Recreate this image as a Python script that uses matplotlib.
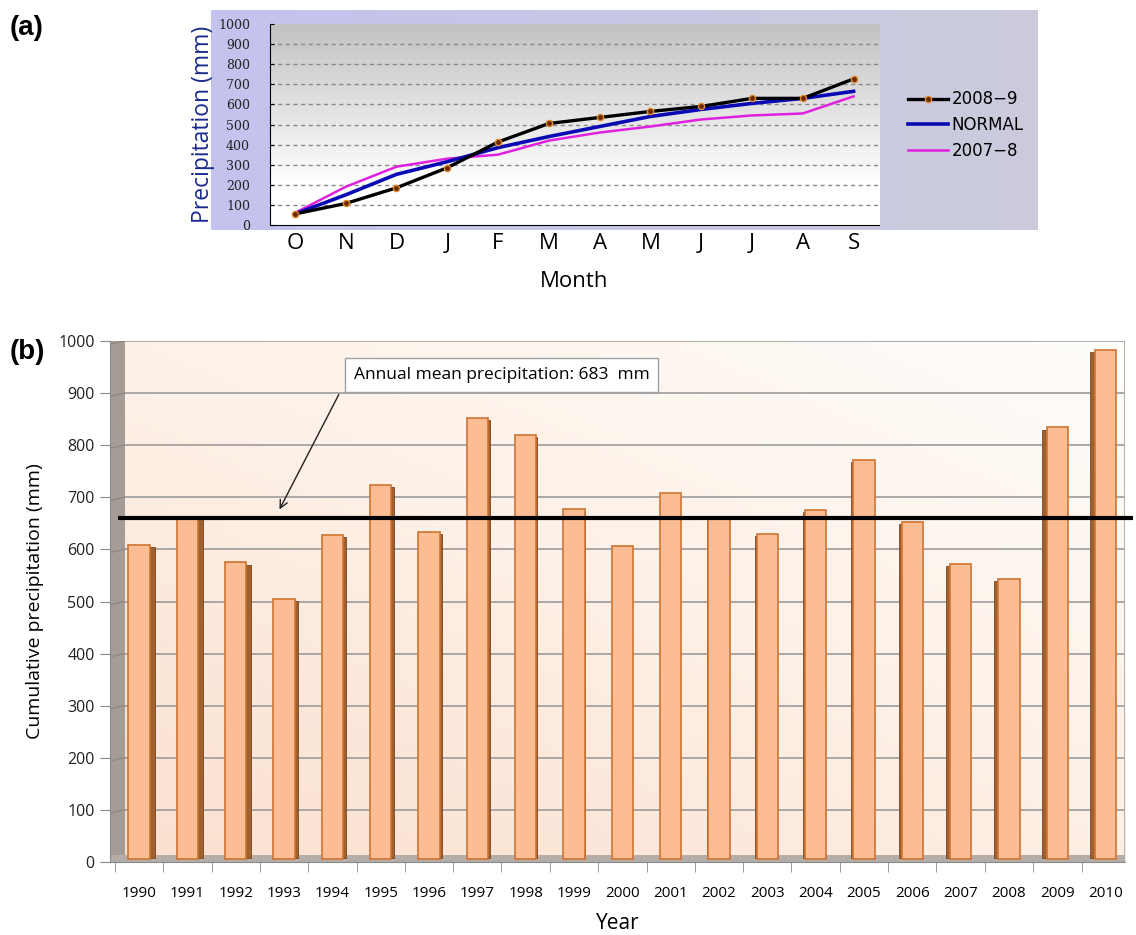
import numpy as np
import matplotlib
matplotlib.use("Agg")
import matplotlib.pyplot as plt
from matplotlib.patches import Rectangle
from matplotlib.colors import LinearSegmentedColormap

# ---------------- data ----------------
months = ["O", "N", "D", "J", "F", "M", "A", "M", "J", "J", "A", "S"]
p2008_9 = [55, 107, 185, 285, 413, 505, 535, 565, 590, 630, 630, 727]
normal = [55, 150, 252, 315, 385, 440, 490, 540, 575, 605, 630, 665]
p2007_8 = [60, 190, 290, 330, 350, 420, 460, 490, 525, 545, 555, 640]

years = [str(y) for y in range(1990, 2011)]
annual = [609, 662, 575, 505, 628, 724, 634, 852, 820, 677,
          607, 709, 659, 629, 676, 771, 652, 572, 543, 834, 983]
mean_line = 661
mean_label = "Annual mean precipitation: 683  mm"

W, H = 1136, 935
fig = plt.figure(figsize=(W / 100, H / 100), dpi=100)
fig.patch.set_facecolor("white")

def fx(px):
    return px / W

def fy(py):
    return 1 - py / H

# ---------------- panel (a) ----------------
# lavender chart area (as a background axes)
axbg = fig.add_axes([fx(211), fy(230), fx(1038) - fx(211), fy(10) - fy(230)])
axbg.set_zorder(0)
bgx = np.linspace(0, 1, 256).reshape(1, -1)
cm_bg = LinearSegmentedColormap.from_list("lav", ["#c3c3ef", "#c8c8e6", "#cbcbdc"])
axbg.imshow(bgx, aspect="auto", cmap=cm_bg, extent=(0, 1, 0, 1))
axbg.set_axis_off()

axa = fig.add_axes([fx(269.5), fy(225), fx(879) - fx(269.5), fy(24) - fy(225)])
axa.set_zorder(2)
axa.set_facecolor("none")
grad = np.linspace(0, 1, 256).reshape(-1, 1)
cm_a = LinearSegmentedColormap.from_list("g", [(0, "#ffffff"), (0.2, "#ffffff"), (1, "#c2c2c2")])
axa.imshow(grad, aspect="auto", cmap=cm_a, origin="lower",
           extent=(-0.5, 11.5, 0, 1000), zorder=0)
x = np.arange(len(months))
for v in range(100, 1000, 100):
    axa.axhline(v, color="#8a8a8a", lw=1.0, ls=(0, (3, 2.5)), zorder=1)
axa.plot(x, p2007_8, color="#e020e0", lw=1.8, zorder=3, label="2007\u22128")
axa.plot(x, normal, color="#0a0ab4", lw=2.6, zorder=4, label="NORMAL")
axa.plot(x, p2008_9, color="black", lw=2.4, zorder=5, marker="o", ms=4.5,
         mfc="#6a2a00", mec="#e08a30", mew=1.0, label="2008\u22129")
axa.set_xlim(-0.5, 11.5)
axa.set_ylim(0, 1000)
axa.set_yticks(range(0, 1001, 100))
axa.set_yticklabels([str(v) for v in range(0, 1001, 100)], fontsize=9,
                    family="DejaVu Serif", color="#222222")
axa.set_xticks(x)
axa.set_xticklabels(months, fontsize=16, family="Open Sans")
axa.tick_params(axis="x", length=0, pad=6)
axa.tick_params(axis="y", length=3, direction="in", pad=14)
for s in ["top", "right"]:
    axa.spines[s].set_visible(False)
axa.spines["left"].set_color("black")
axa.spines["bottom"].set_color("black")
axa.set_xlabel("Month", fontsize=16, family="Open Sans", labelpad=12)
axa.set_ylabel("Precipitation (mm)", fontsize=16.5, family="Open Sans",
               color="#1c2a8c", labelpad=2)
h, l = axa.get_legend_handles_labels()
leg = fig.legend(h[::-1], l[::-1], loc="center left", bbox_to_anchor=(fx(893), fy(125)),
                 frameon=False, handlelength=2.4, labelspacing=0.45,
                 handletextpad=0.2, prop={"family": "DejaVu Sans", "size": 12})
leg.set_zorder(5)
fig.text(fx(10), fy(28), "(a)", fontsize=20, fontweight="bold",
         family="Liberation Sans", va="center", ha="left")

# ---------------- panel (b) ----------------
axb = fig.add_axes([fx(110), fy(862), fx(1125) - fx(110), fy(341) - fy(862)])
axb.set_facecolor("none")
xb = np.arange(len(years))
xl = (-0.6, 20.4)
# background gradient
gx = np.linspace(0, 1, 200)
gy = np.linspace(0, 1, 200)
GX, GY = np.meshgrid(gx, gy)
G = np.clip(0.55 * GY + 0.45 * GX, 0, 1)
cm_b = LinearSegmentedColormap.from_list("p", ["#fbe0cf", "#fdf0e6", "#fffdfa"])
axb.imshow(G, aspect="auto", cmap=cm_b, origin="lower",
           extent=(xl[0] + 0.3, xl[1], 0, 1000), zorder=0)
# left wall and floor
axb.add_patch(Rectangle((xl[0], 0), 0.3, 1000, facecolor="#a59c95", edgecolor="none", zorder=1))
axb.add_patch(Rectangle((xl[0], 0), xl[1] - xl[0], 14, facecolor="#b5aea8", edgecolor="none", zorder=1))
for v in range(100, 1001, 100):
    axb.plot([xl[0] + 0.3, xl[1]], [v, v], color="#9c9c9c", lw=1.2, zorder=1)
    axb.plot([xl[0], xl[0] + 0.3], [v - 6, v], color="#8f8a86", lw=1.0, zorder=1)
axb.plot([xl[1], xl[1]], [0, 1000], color="#a8a8a8", lw=1.2, zorder=1)

bw = 0.44
for i, v in enumerate(annual):
    off = (10 - i) / 10 * 0.11
    if off >= 0:
        sx = xb[i] + bw / 2
    else:
        sx = xb[i] - bw / 2 + off
    if abs(off) > 0.005:
        axb.add_patch(Rectangle((sx, 8), abs(off), v - 12, facecolor="#a0612f",
                                edgecolor="#7a4520", lw=0.6, zorder=2))
    axb.add_patch(Rectangle((xb[i] - bw / 2, 6), bw, v - 6, facecolor="#fcbd94",
                            edgecolor="#cf7431", lw=1.2, zorder=3))

axb.plot([xl[0] + 0.17, xl[1] + 0.17], [mean_line, mean_line], color="black",
         lw=3, zorder=5, clip_on=False, solid_capstyle="butt")
axb.annotate("", xy=(2.88, 672), xytext=(4.16, 902),
             arrowprops=dict(arrowstyle="->", color="#222222", lw=1.0,
                             mutation_scale=14), zorder=6)
axb.text(7.5, 935, mean_label, ha="center", va="center", fontsize=12.5,
         family="Open Sans", zorder=7,
         bbox=dict(boxstyle="square,pad=0.5", facecolor="white",
                   edgecolor="#a0a0a0", lw=1.0))

axb.set_xlim(*xl)
axb.set_ylim(0, 1000)
axb.set_yticks(range(0, 1001, 100))
axb.set_yticklabels([str(v) for v in range(0, 1001, 100)], fontsize=11.5,
                    family="Open Sans", color="#222222")
axb.set_xticks(xb)
axb.set_xticklabels(years, fontsize=11, family="Open Sans")
axb.set_xticks(np.arange(-0.5, 20.5, 1), minor=True)
axb.tick_params(axis="x", which="major", length=0, pad=17)
axb.tick_params(axis="x", which="minor", length=7, color="#8a8a8a")
axb.tick_params(axis="y", length=7, color="#8a8a8a", pad=4)
for s in ["top", "right"]:
    axb.spines[s].set_visible(False)
axb.spines["left"].set_color("#8a8a8a")
axb.spines["bottom"].set_color("#8a8a8a")
axb.set_xlabel("Year", fontsize=15, family="Open Sans", labelpad=9)
axb.set_ylabel("Cumulative precipitation (mm)", fontsize=14, family="Open Sans",
               labelpad=10)
fig.text(fx(10), fy(352), "(b)", fontsize=20, fontweight="bold",
         family="Liberation Sans", va="center", ha="left")

fig.savefig("out.png", dpi=100)
